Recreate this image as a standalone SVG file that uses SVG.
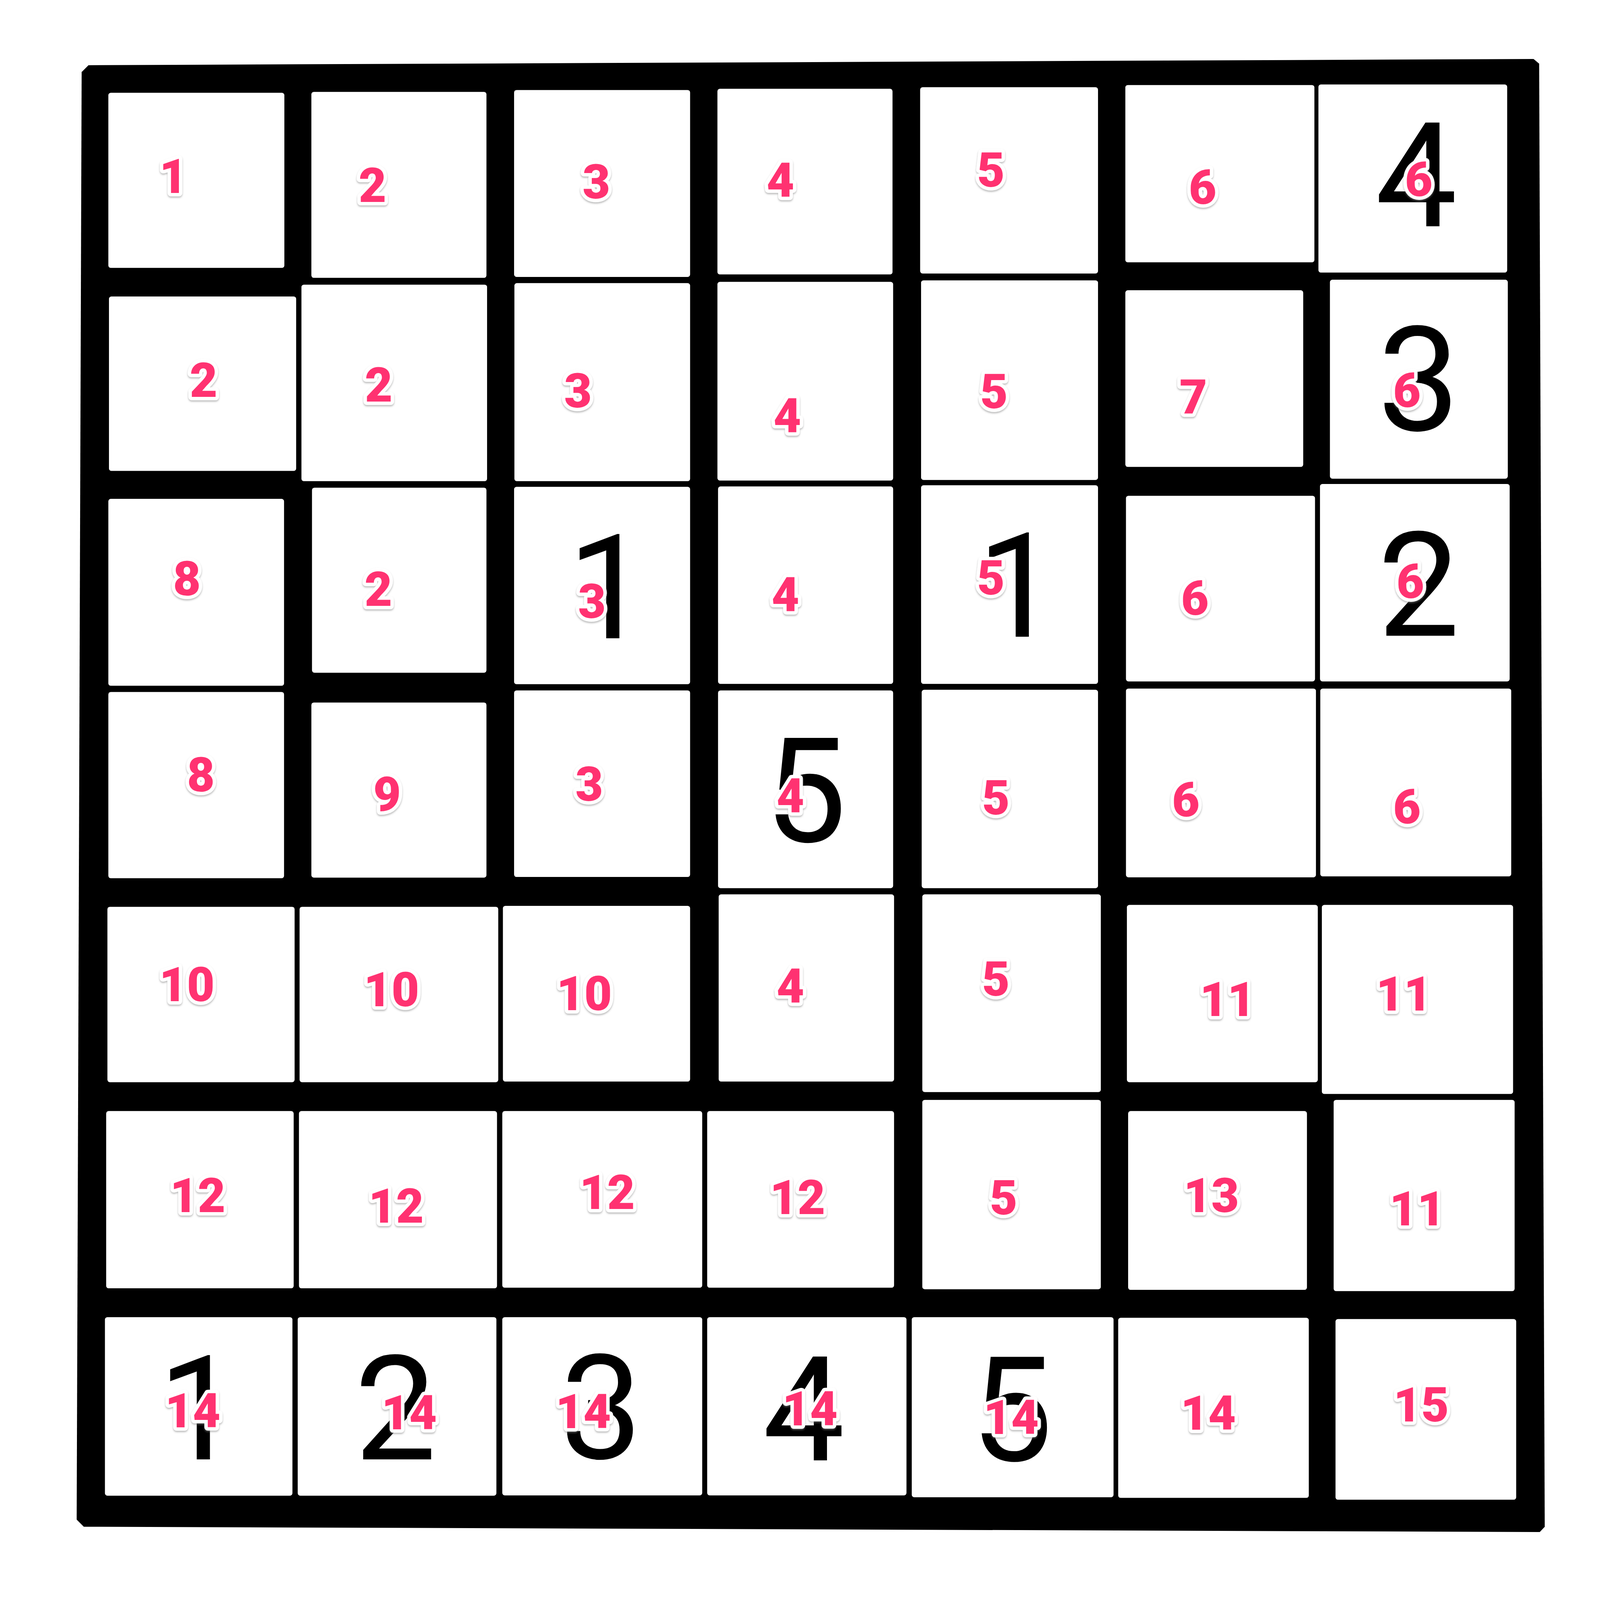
<svg xmlns="http://www.w3.org/2000/svg" width="5154" height="5154" viewBox="0 0 5154 5154" font-family="Roboto, Noto Sans, sans-serif">
<defs>
<style>
svg{width:100vw;height:100vh;display:block}
.c{fill:#ffffff}
.b{font-family:Roboto,'Noto Sans',sans-serif;font-size:470px;fill:#000000;text-anchor:middle}
.p{font-family:Roboto,Inter,'Noto Sans',sans-serif;font-weight:900;font-size:154px;fill:#ff3371;stroke:#ffffff;stroke-width:22px;stroke-linejoin:round;paint-order:stroke fill;text-anchor:middle;filter:url(#sh)}
</style>
<filter id="sh" x="-20%" y="-20%" width="140%" height="140%">
<feDropShadow dx="0" dy="4" stdDeviation="3" flood-color="#808080" flood-opacity="0.55"/>
</filter>
</defs>
<rect x="0" y="0" width="5154" height="5154" fill="#ffffff"/>
<g id="frame">
<polygon points="263,232 285,210 4940,190 4958,205 4976,4918 4960,4935 270,4918 247,4895" fill="#000000"/>
</g>
<g id="r1c1"><rect class="c" x="349" y="299" width="567" height="564" rx="8"/><text class="p" x="558" y="621">1</text></g>
<g id="r1c2"><rect class="c" x="1003" y="296" width="564" height="599" rx="8"/><text class="p" x="1200" y="650">2</text></g>
<g id="r1c3"><rect class="c" x="1656" y="290" width="567" height="602" rx="8"/><text class="p" x="1921" y="639">3</text></g>
<g id="r1c4"><rect class="c" x="2311" y="286" width="564" height="598" rx="8"/><text class="p" x="2514" y="634">4</text></g>
<g id="r1c5"><rect class="c" x="2964" y="281" width="573" height="600" rx="8"/><text class="p" x="3192" y="602">5</text></g>
<g id="r1c6"><rect class="c" x="3625" y="274" width="609" height="571" rx="8"/><text class="p" x="3874" y="657">6</text></g>
<g id="r1c7"><rect class="c" x="4247" y="272" width="608" height="606" rx="8"/><text class="b" x="4562" y="729">4</text><text class="p" x="4570" y="632">6</text></g>

<g id="r2c1"><rect class="c" x="351" y="955" width="603" height="562" rx="8"/><text class="p" x="656" y="1279">2</text></g>
<g id="r2c2"><rect class="c" x="971" y="917" width="598" height="633" rx="8"/><text class="p" x="1220" y="1293">2</text></g>
<g id="r2c3"><rect class="c" x="1657" y="912" width="566" height="638" rx="8"/><text class="p" x="1862" y="1313">3</text></g>
<g id="r2c4"><rect class="c" x="2311" y="908" width="566" height="640" rx="8"/><text class="p" x="2536" y="1393">4</text></g>
<g id="r2c5"><rect class="c" x="2967" y="903" width="570" height="643" rx="8"/><text class="p" x="3202" y="1315">5</text></g>
<g id="r2c6"><rect class="c" x="3625" y="935" width="573" height="569" rx="8"/><text class="p" x="3844" y="1333">7</text></g>
<g id="r2c7"><rect class="c" x="4284" y="901" width="573" height="641" rx="8"/><text class="b" x="4570" y="1386">3</text><text class="p" x="4532" y="1311">6</text></g>

<g id="r3c1"><rect class="c" x="349" y="1607" width="566" height="602" rx="8"/><text class="p" x="602" y="1918">8</text></g>
<g id="r3c2"><rect class="c" x="1005" y="1571" width="562" height="596" rx="8"/><text class="p" x="1219" y="1951">2</text></g>
<g id="r3c3"><rect class="c" x="1656" y="1568" width="567" height="636" rx="8"/><text class="b" x="1960" y="2056">1</text><text class="p" x="1907" y="1991">3</text></g>
<g id="r3c4"><rect class="c" x="2313" y="1567" width="564" height="636" rx="8"/><text class="p" x="2530" y="1969">4</text></g>
<g id="r3c5"><rect class="c" x="2967" y="1563" width="570" height="640" rx="8"/><text class="b" x="3279" y="2051">1</text><text class="p" x="3192" y="1915">5</text></g>
<g id="r3c6"><rect class="c" x="3627" y="1597" width="609" height="598" rx="8"/><text class="p" x="3849" y="1980">6</text></g>
<g id="r3c7"><rect class="c" x="4252" y="1559" width="611" height="636" rx="8"/><text class="b" x="4570" y="2048">2</text><text class="p" x="4543" y="1926">6</text></g>

<g id="r4c1"><rect class="c" x="349" y="2229" width="566" height="600" rx="8"/><text class="p" x="647" y="2549">8</text></g>
<g id="r4c2"><rect class="c" x="1003" y="2263" width="564" height="564" rx="8"/><text class="p" x="1247" y="2612">9</text></g>
<g id="r4c3"><rect class="c" x="1656" y="2224" width="567" height="601" rx="8"/><text class="p" x="1898" y="2579">3</text></g>
<g id="r4c4"><rect class="c" x="2313" y="2224" width="564" height="637" rx="8"/><text class="b" x="2595" y="2711">5</text><text class="p" x="2546" y="2617">4</text></g>
<g id="r4c5"><rect class="c" x="2969" y="2222" width="568" height="639" rx="8"/><text class="p" x="3208" y="2623">5</text></g>
<g id="r4c6"><rect class="c" x="3627" y="2218" width="612" height="608" rx="8"/><text class="p" x="3820" y="2630">6</text></g>
<g id="r4c7"><rect class="c" x="4253" y="2218" width="615" height="605" rx="8"/><text class="p" x="4532" y="2652">6</text></g>

<g id="r5c1"><rect class="c" x="346" y="2921" width="603" height="565" rx="8"/><text class="p" x="602" y="3225">10</text></g>
<g id="r5c2"><rect class="c" x="965" y="2921" width="640" height="565" rx="8"/><text class="p" x="1261" y="3241">10</text></g>
<g id="r5c3"><rect class="c" x="1620" y="2918" width="603" height="566" rx="8"/><text class="p" x="1882" y="3254">10</text></g>
<g id="r5c4"><rect class="c" x="2315" y="2881" width="565" height="603" rx="8"/><text class="p" x="2546" y="3230">4</text></g>
<g id="r5c5"><rect class="c" x="2971" y="2881" width="575" height="637" rx="8"/><text class="p" x="3208" y="3208">5</text></g>
<g id="r5c6"><rect class="c" x="3630" y="2915" width="615" height="571" rx="8"/><text class="p" x="3954" y="3273">11</text></g>
<g id="r5c7"><rect class="c" x="4258" y="2915" width="616" height="609" rx="8"/><text class="p" x="4522" y="3255">11</text></g>

<g id="r6c1"><rect class="c" x="342" y="3579" width="604" height="571" rx="8"/><text class="p" x="637" y="3905">12</text></g>
<g id="r6c2"><rect class="c" x="963" y="3579" width="638" height="571" rx="8"/><text class="p" x="1276" y="3938">12</text></g>
<g id="r6c3"><rect class="c" x="1618" y="3579" width="644" height="569" rx="8"/><text class="p" x="1956" y="3895">12</text></g>
<g id="r6c4"><rect class="c" x="2278" y="3579" width="602" height="569" rx="8"/><text class="p" x="2569" y="3911">12</text></g>
<g id="r6c5"><rect class="c" x="2971" y="3543" width="575" height="610" rx="8"/><text class="p" x="3233" y="3912">5</text></g>
<g id="r6c6"><rect class="c" x="3634" y="3579" width="576" height="576" rx="8"/><text class="p" x="3902" y="3904">13</text></g>
<g id="r6c7"><rect class="c" x="4296" y="3543" width="583" height="616" rx="8"/><text class="p" x="4565" y="3947">11</text></g>

<g id="r7c1"><rect class="c" x="338" y="4243" width="604" height="575" rx="8"/><text class="b" x="641" y="4701">1</text><text class="p" x="621" y="4598">14</text></g>
<g id="r7c2"><rect class="c" x="959" y="4243" width="640" height="575" rx="8"/><text class="b" x="1274" y="4701">2</text><text class="p" x="1318" y="4604">14</text></g>
<g id="r7c3"><rect class="c" x="1618" y="4243" width="644" height="574" rx="8"/><text class="b" x="1937" y="4698">3</text><text class="p" x="1879" y="4600">14</text></g>
<g id="r7c4"><rect class="c" x="2278" y="4243" width="642" height="574" rx="8"/><text class="b" x="2589" y="4704">4</text><text class="p" x="2609" y="4592">14</text></g>
<g id="r7c5"><rect class="c" x="2937" y="4243" width="650" height="580" rx="8"/><text class="b" x="3259" y="4705">5</text><text class="p" x="3257" y="4619">14</text></g>
<g id="r7c6"><rect class="c" x="3602" y="4245" width="614" height="580" rx="8"/><text class="p" x="3892" y="4606">14</text></g>
<g id="r7c7"><rect class="c" x="4302" y="4249" width="582" height="582" rx="8"/><text class="p" x="4578" y="4579">15</text></g>
</svg>
